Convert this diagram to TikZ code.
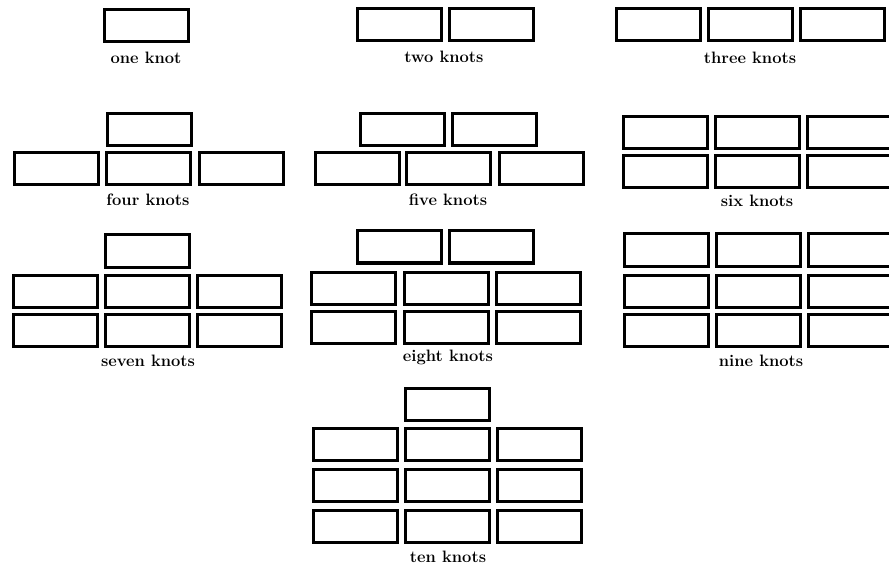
\documentclass[tikz,border=0pt]{standalone}
\usepackage{tikz}
\tikzset{
	knot/.style={draw, line width=3pt, minimum width=84pt, minimum height=32pt, inner sep=0pt},
	knotlabel/.style={anchor=base, inner sep=0pt, font=\fontsize{16.5}{18}\selectfont\bfseries}
}

\begin{document}
\begin{tikzpicture}[x=1pt,y=-1pt]
		\useasboundingbox (0,0) rectangle (889,564);
		% one knot
		\node[knot] (one1) at (146,26) {};
		\node[knotlabel] (oneL) at (146,64) {one knot};
		
		% two knots
		\node[knot] (two1) at (399,25) {};\node[knot] (two2) at (491,25) {};
		\node[knotlabel] (twoL) at (444,63) {two knots};
		
		% three knots
		\node[knot] (three1) at (658,25) {};\node[knot] (three2) at (750,25) {};\node[knot] (three3) at (842,25) {};
		\node[knotlabel] (threeL) at (750,64) {three knots};
		%%%%
		
		% four knots
		\node[knot] (four1) at (149,130) {};
		\node[knot] (four2) at (56,169) {};\node[knot] (four3) at (148,169) {};\node[knot] (four4) at (241,169) {};
		\node[knotlabel] (fourL) at (148,206) {four knots};
		
		% five knots
		\node[knot] (five1) at (402,130) {};\node[knot] (five2) at (494,130) {};
		\node[knot] (five3) at (357,169) {};\node[knot] (five4) at (448,169) {};\node[knot] (five5) at (541,169) {};
		\node[knotlabel] (fiveL) at (448,206) {five knots};
		
		% six knots (right column runs off the edge)
		\node[knot] (six1) at (665,133) {};\node[knot] (six2) at (757,133) {};\node[knot] (six3) at (849,133) {};
		\node[knot] (six4) at (665,172) {};\node[knot] (six5) at (757,172) {};\node[knot] (six6) at (849,172) {};
		\node[knotlabel] (sixL) at (757,207) {six knots};
		%%%%
		
		% seven knots
		\node[knot] (seven1) at (147,251) {};
		\node[knot] (seven2) at (55,291) {};\node[knot] (seven3) at (147,291) {};\node[knot] (seven4) at (239,291) {};
		\node[knot] (seven5) at (55,330) {};\node[knot] (seven6) at (147,330) {};\node[knot] (seven7) at (239,330) {};
		\node[knotlabel] (sevenL) at (148,366) {seven knots};
		
		% eight knots
		\node[knot] (eight1) at (399,247) {};\node[knot] (eight2) at (491,247) {};
		\node[knot] (eight3) at (353,288) {};\node[knot] (eight4) at (446,288) {};\node[knot] (eight5) at (538,288) {};
		\node[knot] (eight6) at (353,327) {};\node[knot] (eight7) at (446,327) {};\node[knot] (eight8) at (538,327) {};
		\node[knotlabel] (eightL) at (448,361) {eight knots};
		
		% nine knots
		\node[knot] (nine1) at (666,250) {};\node[knot] (nine2) at (758,250) {};\node[knot] (nine3) at (850,250) {};
		\node[knot] (nine4) at (666,291) {};\node[knot] (nine5) at (758,291) {};\node[knot] (nine6) at (850,291) {};
		\node[knot] (nine7) at (666,330) {};\node[knot] (nine8) at (758,330) {};\node[knot] (nine9) at (850,330) {};
		\node[knotlabel] (nineL) at (761,366) {nine knots};
		%%%%
		
		% ten knots
		\node[knot] (ten1) at (447,404) {};
		\node[knot] (ten2) at (355,444) {};\node[knot] (ten3) at (447,444) {};\node[knot] (ten4) at (539,444) {};
		\node[knot] (ten5) at (355,485) {};\node[knot] (ten6) at (447,485) {};\node[knot] (ten7) at (539,485) {};
		\node[knot] (ten8) at (355,526) {};\node[knot] (ten9) at (447,526) {};\node[knot] (ten10) at (539,526) {};
		\node[knotlabel] (tenL) at (448,562) {ten knots};
\end{tikzpicture}
\end{document}
